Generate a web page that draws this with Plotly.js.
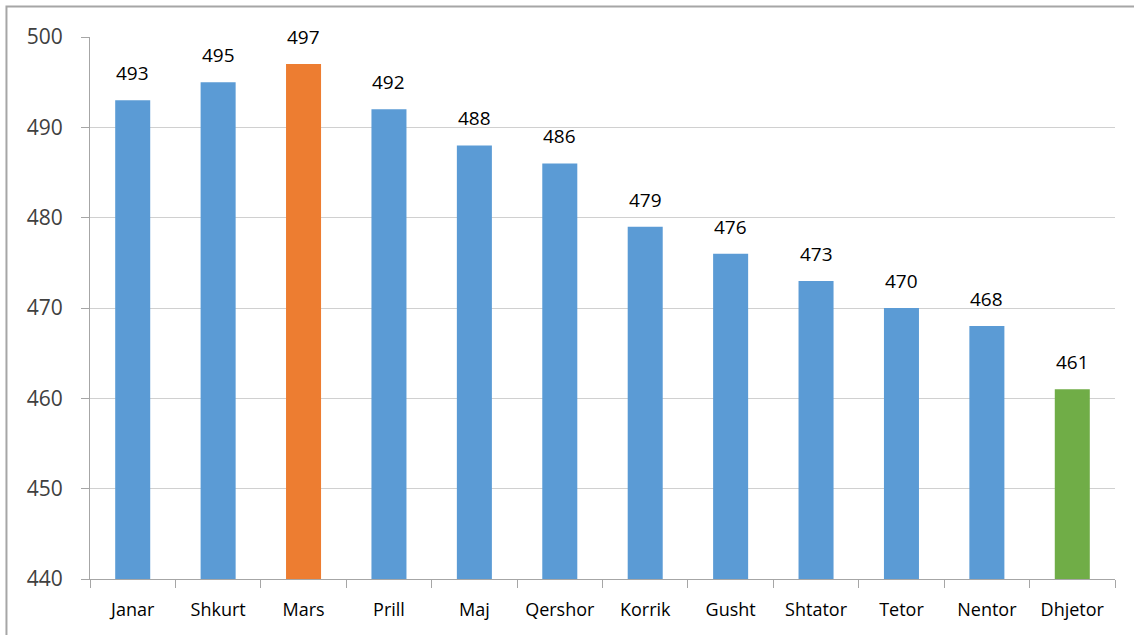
<!DOCTYPE html>
<html>
<head>
<meta charset="utf-8">
<script src="https://cdn.plot.ly/plotly-3.0.1.min.js"></script>
<style>html,body{margin:0;padding:0;background:#fff;}#chart{width:1134px;height:635px;}</style>
</head>
<body>
<div id="chart"></div>
<script>
const months = ["Janar","Shkurt","Mars","Prill","Maj","Qershor","Korrik","Gusht","Shtator","Tetor","Nentor","Dhjetor"];
const values = [493,495,497,492,488,486,479,476,473,470,468,461];
const barColors = ["#5B9BD5","#5B9BD5","#ED7D31","#5B9BD5","#5B9BD5","#5B9BD5","#5B9BD5","#5B9BD5","#5B9BD5","#5B9BD5","#5B9BD5","#70AD47"];
const yTicks = [440,450,460,470,480,490,500];

const FONT = "Open Sans, Liberation Sans, sans-serif";

const trace = {
  type: "bar",
  x: months,
  y: values,
  marker: {color: barColors},
  hoverinfo: "x+y"
};

const labels = months.map((m, i) => ({
  x: m, y: values[i], xref: "x", yref: "y",
  text: String(values[i]), showarrow: false,
  yanchor: "bottom", yshift: 12,
  font: {family: FONT, size: 19, color: "#000"}
}));

const layout = {
  width: 1134, height: 635,
  margin: {l: 90, r: 19, t: 37, b: 56},
  paper_bgcolor: "#fff", plot_bgcolor: "#fff",
  bargap: 0.59,
  showlegend: false,
  font: {family: FONT, color: "#000"},
  xaxis: {
    type: "category",
    showline: true, linecolor: "#a6a6a6", linewidth: 1,
    ticks: "outside", tickson: "boundaries", ticklen: 8, tickcolor: "#a6a6a6",
    ticklabelstandoff: 14,
    tickfont: {size: 18, color: "#000"},
    showgrid: false
  },
  yaxis: {
    range: [440, 500],
    tickvals: yTicks,
    ticktext: yTicks.map(String),
    showline: true, linecolor: "#a6a6a6", linewidth: 1,
    ticks: "outside", ticklen: 8, tickcolor: "#a6a6a6",
    ticklabelstandoff: 14,
    tickfont: {size: 21, color: "#404040"},
    showgrid: true, gridcolor: "#d0d0d0", gridwidth: 1,
    zeroline: false
  },
  annotations: labels,
  shapes: [{
    type: "rect", xref: "paper", yref: "paper",
    x0: -0.0815, x1: 1.1, y0: -0.3, y1: 1.0563,
    line: {color: "#a6a6a6", width: 2}, fillcolor: "rgba(0,0,0,0)", layer: "below"
  }]
};

Plotly.newPlot("chart", [trace], layout, {displayModeBar: false, staticPlot: true});
</script>
</body>
</html>
